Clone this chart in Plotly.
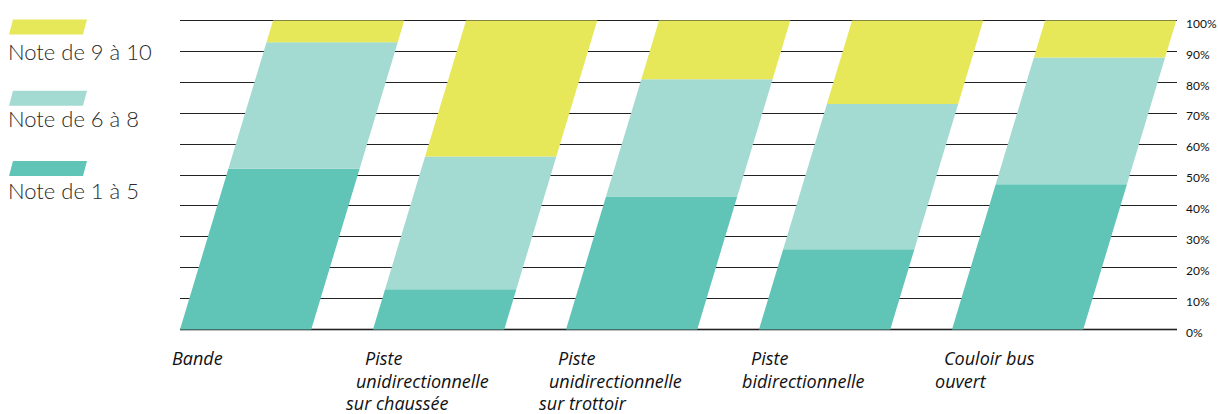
import plotly.graph_objects as go

# Survey categories (bar labels, one list per line of text)
categories = ["Bande", "Piste unidirectionnelle sur chaussée",
              "Piste unidirectionnelle sur trottoir",
              "Piste bidirectionnelle", "Couloir bus ouvert"]
label_lines = [
    ["Bande"],
    ["Piste", "unidirectionnelle", "sur chaussée"],
    ["Piste", "unidirectionnelle", "sur trottoir"],
    ["Piste", "bidirectionnelle"],
    ["Couloir bus", "ouvert"],
]

# Share of answers (%) for each rating group
note_1_5 = [52, 13, 43, 26, 47]
note_6_8 = [41, 43, 38, 47, 41]
note_9_10 = [7, 44, 19, 27, 12]

series_names = ["Note de 1 à 5", "Note de 6 à 8", "Note de 9 à 10"]
series_colors = ["#60C4B7", "#A3DAD1", "#E6E85A"]

y_ticks = list(range(0, 101, 10))
y_ticktext = [f"{v}%" for v in y_ticks]

# Slanted-bar geometry (in x data units)
BAR_HALF = 0.34     # half width of a bar
SKEW = 0.482        # horizontal drift of a bar from 0 % to 100 %
X_MIN = -BAR_HALF
X_MAX = X_MIN + 997 / 193
Y_PAD = 0.5         # keeps the 0 % and 100 % grid lines inside the plot

fig = go.Figure()

series = [note_1_5, note_6_8, note_9_10]
for i in range(len(categories)):
    base = 0.0
    for s, vals in enumerate(series):
        lo, hi = base, base + vals[i]
        xs = [i - BAR_HALF + SKEW * lo / 100, i + BAR_HALF + SKEW * lo / 100,
              i + BAR_HALF + SKEW * hi / 100, i - BAR_HALF + SKEW * hi / 100,
              i - BAR_HALF + SKEW * lo / 100]
        ys = [lo, lo, hi, hi, lo]
        fig.add_trace(go.Scatter(
            x=xs, y=ys, mode="lines", fill="toself",
            fillcolor=series_colors[s], line=dict(width=0),
            hoverinfo="skip", showlegend=False, name=series_names[s]))
        base = hi

# Pixel frame of the 0-100 % band
PLOT_L, PLOT_R, PLOT_T, PLOT_B = 180, 1177, 21, 329
PX_PER_UNIT = (PLOT_B - PLOT_T) / 100
M_T = PLOT_T - Y_PAD * PX_PER_UNIT
M_B = 414 - (PLOT_B + Y_PAD * PX_PER_UNIT)


def px_to_paper_x(px):
    return (px - PLOT_L) / (PLOT_R - PLOT_L)


def px_to_paper_y(py):
    top = M_T
    bot = 414 - M_B
    return (bot - py) / (bot - top)


# Key: slanted swatches with their captions underneath
key_rows = [(20, 52, 2), (91, 119, 1), (161, 190, 0)]
shapes = []
annotations = []
for top, text_y, s in key_rows:
    bot = top + 15
    path = (f"M {px_to_paper_x(9)} {px_to_paper_y(bot)} "
            f"L {px_to_paper_x(83)} {px_to_paper_y(bot)} "
            f"L {px_to_paper_x(87)} {px_to_paper_y(top)} "
            f"L {px_to_paper_x(13)} {px_to_paper_y(top)} Z")
    shapes.append(dict(type="path", xref="paper", yref="paper", path=path,
                       fillcolor=series_colors[s], line=dict(width=0)))
    annotations.append(dict(
        x=px_to_paper_x(6), y=px_to_paper_y(text_y), xref="paper", yref="paper",
        text=series_names[s], showarrow=False, xanchor="left", yanchor="middle",
        font=dict(family="Lato", size=22, color="#2a2a2a", weight=300)))

# Category labels: each line stepped left, following the slant
line_y = [357, 380, 402]
line_shift = [10, 19, 29]
for i, lines in enumerate(label_lines):
    bar_left_px = PLOT_L + (i - BAR_HALF - X_MIN) * 193
    for j, txt in enumerate(lines):
        annotations.append(dict(
            x=px_to_paper_x(bar_left_px - line_shift[j]),
            y=px_to_paper_y(line_y[j]),
            xref="paper", yref="paper", text=f"<i>{txt}</i>", showarrow=False,
            xanchor="left", yanchor="middle",
            font=dict(family="Open Sans", size=18, color="#111111")))

fig.update_layout(
    width=1218, height=414,
    margin=dict(l=PLOT_L, r=1218 - PLOT_R, t=M_T, b=M_B, autoexpand=False),
    paper_bgcolor="white", plot_bgcolor="white",
    showlegend=False,
    shapes=shapes, annotations=annotations,
    xaxis=dict(range=[X_MIN, X_MAX], visible=False, fixedrange=True,
               automargin=False),
    yaxis=dict(range=[-Y_PAD, 100 + Y_PAD], side="right", tickvals=y_ticks,
               ticktext=y_ticktext, showgrid=True, gridcolor="#222222",
               gridwidth=1.3, zeroline=False, showline=False, ticks="",
               ticklabelstandoff=8, ticklabelshift=3, automargin=False,
               tickfont=dict(family="Lato", size=12, color="#111111"),
               fixedrange=True),
)

# Lighter, heavier baseline at 0 %
fig.add_shape(type="line", xref="paper", yref="y", x0=0, x1=1, y0=0, y1=0,
              line=dict(color="#7a7a7a", width=2), layer="below")

fig.write_html("out.html")
